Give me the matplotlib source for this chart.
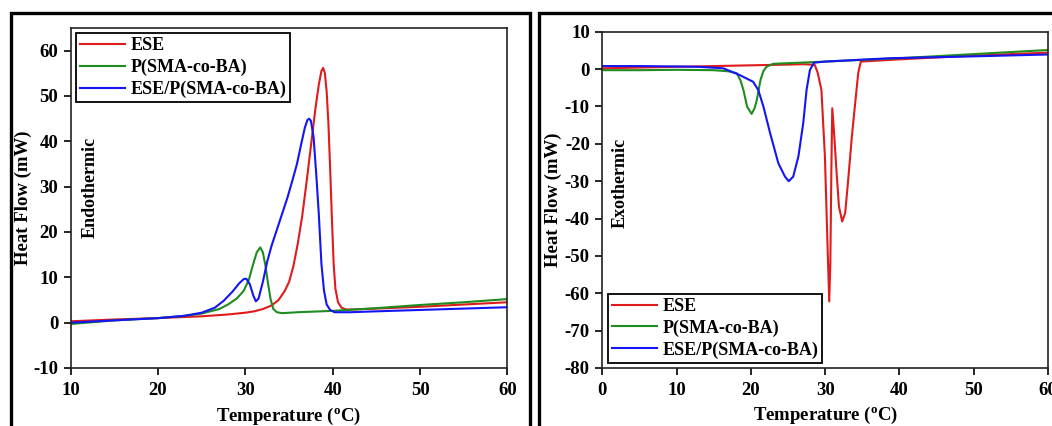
import matplotlib
matplotlib.use('Agg')
import matplotlib.pyplot as plt
from matplotlib.patches import Rectangle

plt.rcParams['font.family'] = ['Liberation Serif', 'DejaVu Serif']
plt.rcParams['font.weight'] = 'bold'
plt.rcParams['axes.labelweight'] = 'bold'
plt.rcParams['axes.unicode_minus'] = False
plt.rcParams['mathtext.fontset'] = 'custom'
plt.rcParams['mathtext.rm'] = 'Liberation Serif:bold'
plt.rcParams['mathtext.it'] = 'Liberation Serif:bold'

labels = ['ESE', 'P(SMA-co-BA)', 'ESE/P(SMA-co-BA)']
colors = ['#e01b1b', '#1f8c1f', '#1414f5']

# heating scan (endothermic)
ese_heat_t = [10, 15, 20, 25, 28, 30, 31, 32, 33, 33.8, 34.5, 35.0, 35.5, 36.0, 36.5, 37.0, 37.5,
              38.0, 38.4, 38.7, 38.9, 39.1, 39.3, 39.5, 39.7, 39.9, 40.1, 40.3, 40.6, 41.0, 41.5,
              42, 45, 50, 55, 60]
ese_heat_h = [0.3, 0.7, 1.0, 1.4, 1.8, 2.2, 2.5, 3.0, 3.8, 5.0, 7.0, 9.0, 12.5, 17.5, 23.5, 31.0, 39.0,
              47.0, 52.5, 55.5, 56.2, 55.0, 51.0, 44.0, 34.0, 23.0, 13.0, 7.5, 4.5, 3.3, 2.9,
              2.9, 3.1, 3.5, 4.0, 4.5]
pol_heat_t = [10, 15, 20, 23, 25, 27, 28, 29, 29.8, 30.4, 30.9, 31.3, 31.7, 32.0, 32.3, 32.6, 32.9,
              33.2, 33.6, 34.2, 36, 40, 45, 50, 55, 60]
pol_heat_h = [-0.3, 0.5, 1.0, 1.5, 2.0, 3.0, 4.0, 5.3, 7.0, 9.5, 13.0, 15.5, 16.6, 15.5, 12.5, 8.5, 5.0,
              3.0, 2.3, 2.1, 2.3, 2.6, 3.2, 3.9, 4.5, 5.2]
mix_heat_t = [10, 15, 20, 23, 25, 26.5, 27.5, 28.5, 29.3, 29.8, 30.1, 30.5, 30.9, 31.2, 31.5, 32.0,
              32.5, 33.0, 33.6, 34.2, 34.8, 35.4, 35.9, 36.4, 36.8, 37.1, 37.3, 37.5, 37.8, 38.1,
              38.4, 38.7, 39.0, 39.3, 39.7, 40.2, 42, 45, 50, 55, 60]
mix_heat_h = [0.0, 0.5, 1.0, 1.5, 2.2, 3.3, 4.8, 6.8, 8.7, 9.6, 9.7, 8.5, 6.0, 4.7, 5.3, 9.0,
              13.5, 17.0, 20.5, 24.0, 27.5, 31.5, 35.0, 39.5, 43.0, 44.7, 45.0, 44.5, 41.0, 33.0,
              24.0, 13.0, 7.0, 4.0, 2.8, 2.3, 2.3, 2.5, 2.8, 3.1, 3.4]

# cooling scan (exothermic)
ese_cool_t = [0, 5, 10, 15, 20, 25, 27, 28, 28.6, 29.0, 29.5, 29.97, 30.3, 30.55, 30.7, 30.85,
              30.96, 31.2, 31.55, 31.86, 32.3, 32.7, 33.1, 33.6, 34.0, 34.45, 34.8, 40, 45, 50, 55, 60]
ese_cool_h = [0.2, 0.4, 0.6, 0.8, 1.0, 1.2, 1.3, 1.2, 1.1, -1.0, -5.6, -23.4, -45.7, -62.2, -52.0, -25.0,
              -10.5, -17.0, -27.9, -36.8, -40.8, -38.5, -29.7, -18.0, -10.0, -1.1, 2.0, 2.6, 3.1, 3.6, 4.0, 4.4]
pol_cool_t = [0, 5, 10, 15, 17, 18.1, 18.6, 19.0, 19.5, 20.1, 20.5, 20.8, 21.3, 21.7, 22.1, 23.0,
              30, 40, 50, 60]
pol_cool_h = [-0.3, -0.3, -0.2, -0.3, -0.6, -1.1, -3.0, -5.6, -10.1, -12.0, -10.5, -8.3, -2.9, -0.5, 0.6, 1.4,
              2.0, 2.9, 4.0, 5.1]
mix_cool_t = [0, 5, 10, 13, 16.3, 18.5, 20.3, 21.0, 21.7, 22.6, 23.7, 24.6, 25.1, 25.7, 26.4, 27.05,
              27.5, 27.95, 28.5, 30, 38.7, 50, 60]
mix_cool_h = [0.8, 0.8, 0.7, 0.6, 0.2, -1.6, -3.4, -5.6, -10.1, -17.2, -25.2, -28.8, -30.0, -28.8, -23.4, -14.5,
              -5.6, -0.25, 1.7, 2.0, 2.9, 3.4, 3.9]

fig = plt.figure(figsize=(10.52, 4.26), dpi=100)
ax1 = fig.add_axes([0.0672, 0.1362, 0.4152, 0.7981])
ax2 = fig.add_axes([0.5725, 0.1362, 0.4237, 0.7894])

for t, h, c, l in zip([ese_heat_t, pol_heat_t, mix_heat_t], [ese_heat_h, pol_heat_h, mix_heat_h], colors, labels):
    ax1.plot(t, h, color=c, lw=1.5, label=l)
for t, h, c, l in zip([ese_cool_t, pol_cool_t, mix_cool_t], [ese_cool_h, pol_cool_h, mix_cool_h], colors, labels):
    ax2.plot(t, h, color=c, lw=1.5, label=l)

ax1.set_xlim(10, 60)
ax1.set_ylim(-10, 65)
ax1.set_yticks(range(-10, 61, 10))
ax2.set_xlim(0, 60)
ax2.set_ylim(-80, 10)
ax2.set_yticks(range(-80, 11, 10))

for ax, ylx in ((ax1, -0.0886), (ax2, -0.0904)):
    ax.set_xticks(range(int(ax.get_xlim()[0]), 61, 10))
    ax.tick_params(direction='out', length=5, width=1.2, labelsize=13.5)
    ax.tick_params(axis='y', pad=4)
    ax.tick_params(axis='x', pad=5)
    for s in ax.spines.values():
        s.set_linewidth(1.2)
        s.set_color('#222222')
    ax.set_xlabel('Temperature ($^{o}$C)', fontsize=13.5)
    ax.set_ylabel('Heat Flow (mW)', fontsize=13.5)
    ax.xaxis.set_label_coords(0.5, -0.11)
    ax.yaxis.set_label_coords(ylx, 0.5)

ax1.text(0.045, 0.53, 'Endothermic', transform=ax1.transAxes, rotation=90,
         fontsize=13, ha='center', va='center')
ax2.text(0.04, 0.55, 'Exothermic', transform=ax2.transAxes, rotation=90,
         fontsize=13, ha='center', va='center')

leg_kw = dict(fontsize=13, handlelength=2.5, handletextpad=0.3, labelspacing=0.25,
              borderpad=0.22, borderaxespad=0.3, fancybox=False, framealpha=1)
lg1 = ax1.legend(loc='upper left', **leg_kw)
lg2 = ax2.legend(loc='lower left', **leg_kw)
for lg in (lg1, lg2):
    lg.get_frame().set_edgecolor('black')
    lg.get_frame().set_linewidth(1.3)

# panel frames
fig.patches.append(Rectangle((0.0105, -0.05), 0.4935, 1.0205, transform=fig.transFigure,
                             fill=False, lw=2.4, edgecolor='black'))
fig.patches.append(Rectangle((0.5125, -0.05), 0.52, 1.0205, transform=fig.transFigure,
                             fill=False, lw=2.4, edgecolor='black'))

fig.savefig('out.png', dpi=100)
